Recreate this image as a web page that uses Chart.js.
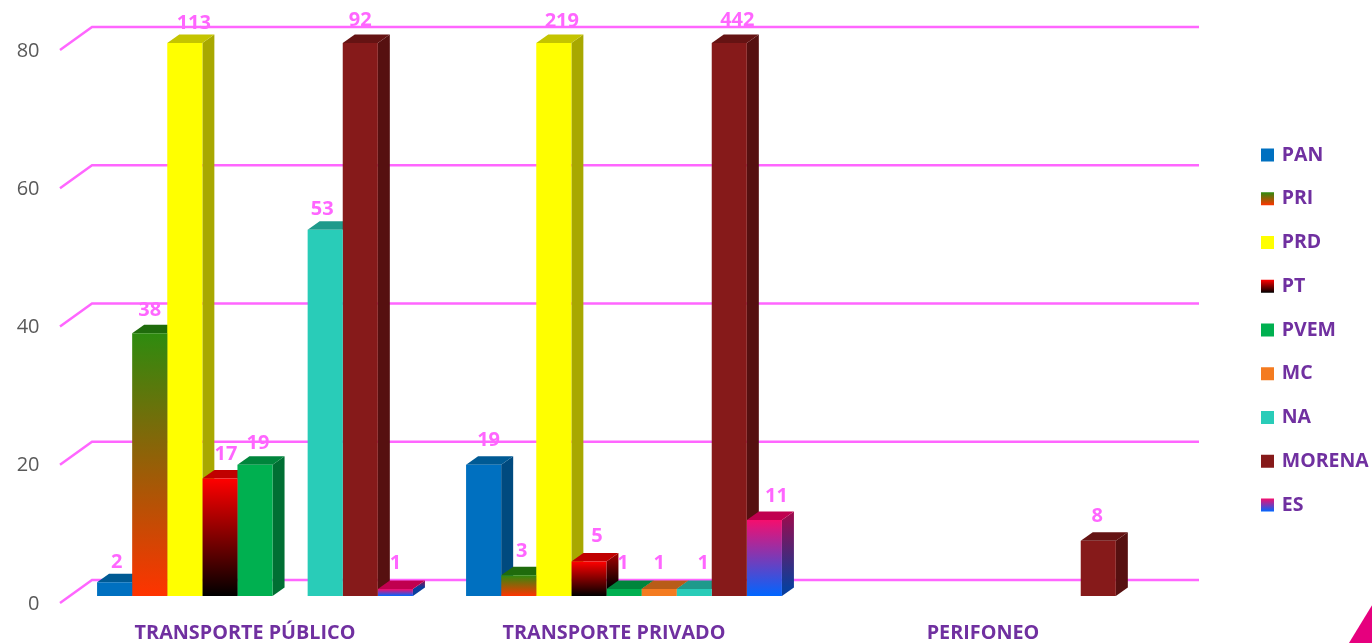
<!DOCTYPE html>
<html><head><meta charset="utf-8">
<style>
html,body{margin:0;padding:0;background:#fff;overflow:hidden}
#wrap{position:relative;width:1372px;height:643px}
canvas{display:block}
#corner{position:absolute;left:1340px;top:600px;width:32px;height:43px;background:#E6007E;clip-path:polygon(100% 12%,100% 100%,28% 100%)}
</style>
<script src="https://cdn.jsdelivr.net/npm/chart.js@4"></script>
</head><body>
<div id="wrap"><canvas id="c" width="1372" height="643"></canvas><div id="corner"></div></div>
<script>
const categories = ['TRANSPORTE PÚBLICO','TRANSPORTE PRIVADO','PERIFONEO'];
const PAN = [2,19,null];
const PRI = [38,3,null];
const PRD = [113,219,null];
const PT = [17,5,null];
const PVEM = [19,1,null];
const MC = [null,1,null];
const NA = [53,1,null];
const MORENA = [92,442,8];
const ES = [1,11,null];
const yTicks = [0,20,40,60,80];

const FONT = '"Open Sans"';
const PINK = '#FF66FF', PURPLE = '#7030A0';
const DX = 12, DY = 8.5;
// name, values, front [top,bottom], side [top,bottom], top face
const series = [
 ['PAN',PAN,['#0070C0','#0070C0'],['#004A7F','#004A7F'],'#005A94'],
 ['PRI',PRI,['#2E8B0F','#FF3300'],['#1E5C0A','#A82200'],'#1F6B0C'],
 ['PRD',PRD,['#FFFF00','#FFFF00'],['#A8A800','#A8A800'],'#C4C400'],
 ['PT',PT,['#FF0000','#000000'],['#A80000','#000000'],'#C00000'],
 ['PVEM',PVEM,['#00B050','#00B050'],['#006F33','#006F33'],'#00853C'],
 ['MC',MC,['#F47B20','#F47B20'],['#A15114','#A15114'],'#B85C18'],
 ['NA',NA,['#29CCB8','#29CCB8'],['#1B8779','#1B8779'],'#1F9A8B'],
 ['MORENA',MORENA,['#861A1A','#861A1A'],['#561010','#561010'],'#651313'],
 ['ES',ES,['#F50E6E','#0066FF'],['#A1094A','#0A3E9C'],'#C0004F']
];
// hand placement of the value labels in the source: [dx,dy] per series and category
const labelNudge = [
 [[-1,1],[2,-3]],
 [[-3,-2],[0,-3]],
 [[6,1],[5,-1]],
 [[3,-3],[5,-4]],
 [[0,0],[-4,-5]],
 [[0,0],[-3,-5]],
 [[-6,1],[6,-5]],
 [[-3,-2],[5,-2],[-4,-3]],
 [[-3,-5],[9,-3]]
];

function vGrad(ctx,y0,y1,c){
  if(!isFinite(y0)||!isFinite(y1)) return c[0];
  const g=ctx.createLinearGradient(0,y0,0,y1);
  g.addColorStop(0,c[0]);g.addColorStop(1,c[1]);
  return g;
}

const faces3d = {
  id:'faces3d',
  afterLayout(chart){
    const lg=chart.legend, pad=chart.options.plugins.legend.labels.padding;
    const shiftX=1263-pad-lg.left;
    lg.left+=shiftX; lg.right+=shiftX;
    lg.top-=13; lg.bottom-=13;
  },
  beforeDraw(chart){
    // the swatches: a small box plus a thick outline of the same gradient
    const lg=chart.legend, lab=chart.options.plugins.legend.labels, pad=lab.padding;
    const colH=lg.columnSizes[0].height, step=colH/series.length;
    const y0=(lg.top+pad+lg.bottom-colH)/2;
    const boxOff=Math.max((lab.font.size-lab.boxHeight)/2,0);
    lg.legendItems.forEach((it,i)=>{
      const t=y0+i*step+boxOff;
      const g=vGrad(chart.ctx,t-2,t+lab.boxHeight+2,series[i][2]);
      it.fillStyle=g; it.strokeStyle=g; it.lineWidth=4; it.lineJoin='miter';
    });
  },
  beforeDatasetsDraw(chart){
    const {ctx,chartArea:a,scales:{y}}=chart;
    ctx.save();
    ctx.strokeStyle=PINK;ctx.lineWidth=2.5;
    y.ticks.forEach(t=>{
      const p=y.getPixelForValue(t.value);
      ctx.beginPath();
      ctx.moveTo(a.left-10.5,p+7);
      ctx.lineTo(a.left+21.5,p-16);
      ctx.lineTo(a.right+21.5,p-16);
      ctx.stroke();
    });
    // side and top faces, left to right; the front faces are drawn over them by the library
    series.forEach((s,i)=>{
      chart.getDatasetMeta(i).data.forEach((b,j)=>{
        if(s[1][j]==null) return;
        const top=Math.max(b.y,a.top), l=b.x-b.width/2, r=b.x+b.width/2, bot=b.base;
        ctx.fillStyle=vGrad(ctx,top-DY,bot-DY,s[3]);
        ctx.beginPath();ctx.moveTo(r,top);ctx.lineTo(r+DX,top-DY);ctx.lineTo(r+DX,bot-DY);ctx.lineTo(r,bot);ctx.closePath();ctx.fill();
        ctx.fillStyle=s[4];
        ctx.beginPath();ctx.moveTo(l,top);ctx.lineTo(l+DX,top-DY);ctx.lineTo(r+DX,top-DY);ctx.lineTo(r,top);ctx.closePath();ctx.fill();
      });
    });
    ctx.restore();
  },
  afterDatasetsDraw(chart){
    const {ctx,chartArea:a}=chart;
    ctx.save();
    ctx.fillStyle=PINK;ctx.font='bold 20px '+FONT;ctx.textAlign='center';ctx.textBaseline='middle';
    series.forEach((s,i)=>{
      chart.getDatasetMeta(i).data.forEach((b,j)=>{
        if(s[1][j]==null) return;
        const n=labelNudge[i][j];
        ctx.fillText(String(s[1][j]),b.x+3+n[0],Math.max(b.y,a.top)-21+n[1]);
      });
    });
    ctx.restore();
  }
};

new Chart(document.getElementById('c'),{
  type:'bar',
  data:{
    labels:categories,
    datasets:series.map((s,i)=>({
      label:s[0],
      data:s[1],
      backgroundColor(c){
        if(c.type!=='data'||c.raw==null) return s[2][0];
        const y=c.chart.scales.y;
        return vGrad(c.chart.ctx,y.getPixelForValue(Math.min(c.raw,80)),y.getPixelForValue(0),s[2]);
      },
      borderWidth:0,
      categoryPercentage:0.856,
      barPercentage:1
    }))
  },
  plugins:[faces3d],
  options:{
    responsive:false,
    animation:false,
    events:[],
    layout:{padding:{top:43,left:0,bottom:0,right:64.5}},
    plugins:{
      tooltip:{enabled:false},
      title:{display:false},
      legend:{
        position:'right',
        align:'center',
        maxWidth:130,
        labels:{
          boxWidth:9,boxHeight:9,padding:24.25,
          color:PURPLE,
          font:{family:FONT,size:19.5,weight:'bold'}
        }
      }
    },
    scales:{
      x:{
        grid:{display:false,drawTicks:false},
        border:{display:false},
        afterFit(s){s.height=47;},
        ticks:{color:PURPLE,padding:25,labelOffset:-10,maxRotation:0,autoSkip:false,font:{family:FONT,size:19.8,weight:'bold'}}
      },
      y:{
        min:0,max:80,
        afterBuildTicks(s){s.ticks=yTicks.map(v=>({value:v}));},
        grid:{display:false,drawTicks:false},
        border:{display:false},
        afterFit(s){s.width=70.5;},
        ticks:{color:'#595959',padding:31,labelOffset:8,font:{family:FONT,size:20}}
      }
    }
  }
});
</script>
</body></html>
